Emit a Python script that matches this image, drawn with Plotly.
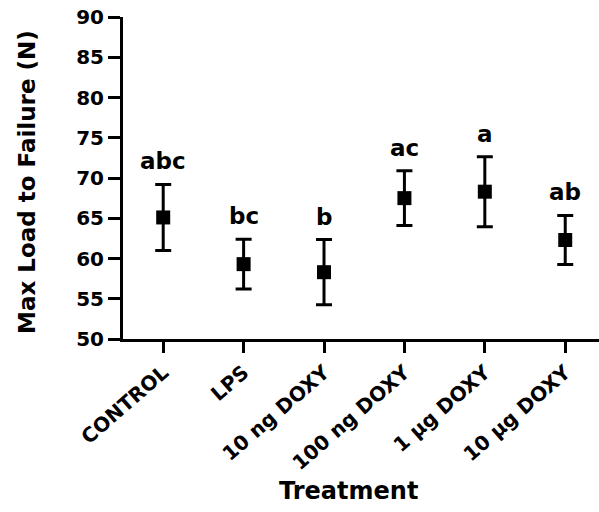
import plotly.graph_objects as go

# Treatment groups and measured max load (mean +/- error)
treatments = ["CONTROL", "LPS", "10 ng DOXY", "100 ng DOXY", "1 µg DOXY", "10 µg DOXY"]
max_load = [65.1, 59.3, 58.3, 67.5, 68.3, 62.3]
load_err = [4.1, 3.1, 4.05, 3.4, 4.35, 3.05]
sig_letters = ["abc", "bc", "b", "ac", "a", "ab"]

y_ticks = [50, 55, 60, 65, 70, 75, 80, 85, 90]

FONT = "DejaVu Sans, Liberation Sans, Arial, sans-serif"

fig = go.Figure()
fig.add_trace(go.Scatter(
    x=list(range(len(treatments))),
    y=max_load,
    mode="markers",
    marker=dict(symbol="square", size=14, color="black"),
    error_y=dict(type="data", array=load_err, visible=True,
                 color="black", thickness=3, width=8),
    showlegend=False,
))

# significance letters above each error bar
for i, (m, e, s) in enumerate(zip(max_load, load_err, sig_letters)):
    fig.add_annotation(x=i, y=m + e, text=f"<b>{s}</b>", showarrow=False,
                       yanchor="bottom", yshift=8,
                       font=dict(family=FONT, size=23, color="black"))

# axis titles
fig.add_annotation(x=-0.2017, y=0.4876, xref="paper", yref="paper",
                   text="<b>Max Load to Failure (N)</b>", textangle=-90,
                   showarrow=False, xanchor="center", yanchor="middle",
                   font=dict(family=FONT, size=23, color="black"))
fig.add_annotation(x=2.3, y=-0.472, xref="x", yref="paper",
                   text="<b>Treatment</b>", showarrow=False,
                   xanchor="center", yanchor="middle",
                   font=dict(family=FONT, size=24, color="black"))

fig.update_layout(
    width=599, height=512,
    margin=dict(l=123, r=0, t=17, b=173),
    paper_bgcolor="white", plot_bgcolor="white",
    font=dict(family=FONT, color="black"),
)
fig.update_xaxes(
    range=[-0.5, 5.42],
    tickmode="array",
    tickvals=list(range(len(treatments))),
    ticktext=[f"<b>{t}</b>" for t in treatments],
    tickangle=-41,
    tickfont=dict(family=FONT, size=20, color="black"),
    showline=True, linecolor="black", linewidth=3,
    ticks="outside", ticklen=11, tickwidth=3, tickcolor="black",
    showgrid=False, zeroline=False,
)
fig.update_yaxes(
    range=[50, 90],
    tickmode="array",
    tickvals=y_ticks,
    ticktext=[f"<b>{v}</b>" for v in y_ticks],
    tickfont=dict(family=FONT, size=20, color="black"),
    showline=True, linecolor="black", linewidth=3,
    ticks="outside", ticklen=12, tickwidth=3, tickcolor="black",
    showgrid=False, zeroline=False,
)

fig.write_html("out.html")
